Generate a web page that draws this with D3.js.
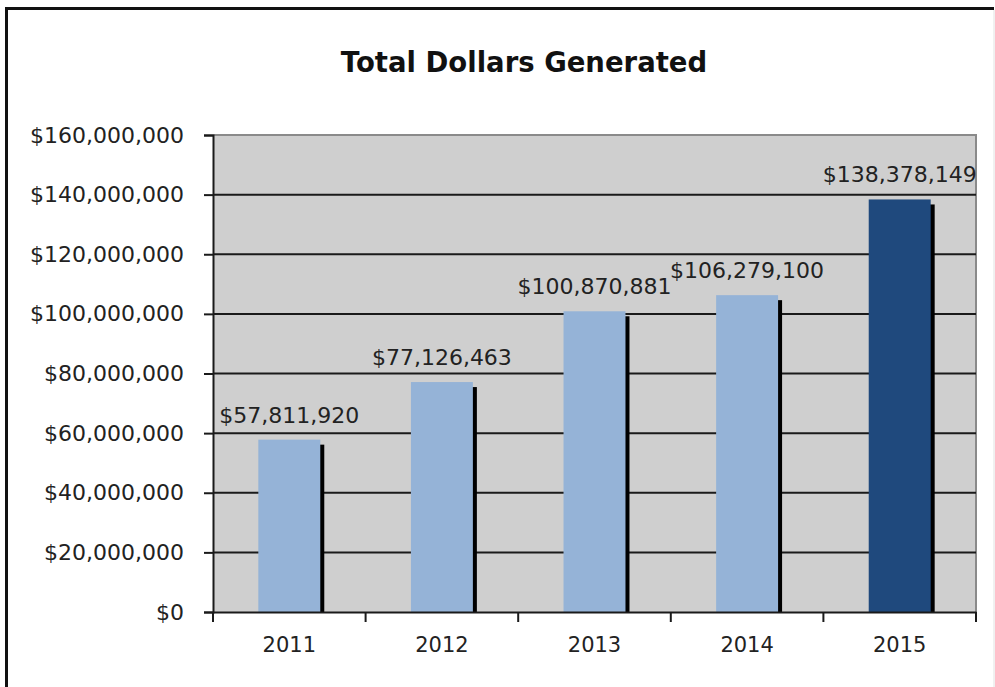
<!DOCTYPE html>
<html>
<head>
<meta charset="utf-8">
<script src="https://cdn.jsdelivr.net/npm/d3@7/dist/d3.min.js"></script>
<style>
  html, body { margin: 0; padding: 0; background: #fff; }
  svg { display: block; }
  text { font-family: "DejaVu Sans", Verdana, sans-serif; }
</style>
</head>
<body>
<svg id="chart" width="995" height="687"></svg>
<script>
// Chart data
const title = "Total Dollars Generated";
const years = ["2011", "2012", "2013", "2014", "2015"];
const totals = [57811920, 77126463, 100870881, 106279100, 138378149];
const barColors = ["#95b3d7", "#95b3d7", "#95b3d7", "#95b3d7", "#1f497d"];
const yTicks = [0, 20000000, 40000000, 60000000, 80000000, 100000000, 120000000, 140000000, 160000000];

const svg = d3.select("#chart");
const plot = { left: 213, right: 976, top: 135, bottom: 612 };

const x = d3.scaleBand()
  .domain(years)
  .range([plot.left, plot.right])
  .paddingInner(0.594)
  .paddingOuter(0.297);

const y = d3.scaleLinear()
  .domain([0, 160000000])
  .range([plot.bottom, plot.top]);

const money = v => "$" + d3.format(",")(v);

// Outer frame
svg.append("line").attr("x1", 5).attr("x2", 994).attr("y1", 8.5).attr("y2", 8.5)
  .attr("stroke", "#111").attr("stroke-width", 3);
svg.append("line").attr("x1", 6.5).attr("x2", 6.5).attr("y1", 7).attr("y2", 687)
  .attr("stroke", "#111").attr("stroke-width", 3);
svg.append("line").attr("x1", 994).attr("x2", 994).attr("y1", 10).attr("y2", 687)
  .attr("stroke", "#e2e2e2").attr("stroke-width", 1);

// Title
svg.append("text")
  .attr("x", 524).attr("y", 72)
  .attr("text-anchor", "middle")
  .attr("font-size", 27.5).attr("font-weight", "bold")
  .attr("fill", "#111")
  .text(title);

// Plot background
svg.append("rect")
  .attr("x", plot.left).attr("y", plot.top)
  .attr("width", plot.right - plot.left).attr("height", plot.bottom - plot.top)
  .attr("fill", "#cfcfcf");

// Plot border (top / right)
svg.append("path")
  .attr("d", `M${plot.left},${plot.top}H${plot.right}V${plot.bottom}`)
  .attr("fill", "none").attr("stroke", "#8a8a8a").attr("stroke-width", 2);

// Gridlines
svg.append("g").selectAll("line")
  .data(yTicks.filter(t => t > 0 && t < 160000000))
  .join("line")
  .attr("x1", plot.left).attr("x2", plot.right)
  .attr("y1", d => y(d)).attr("y2", d => y(d))
  .attr("stroke", "#1a1a1a").attr("stroke-width", 2);

// Bar shadows
const shadowDx = 4, shadowDy = 5;
svg.append("g").selectAll("rect")
  .data(totals)
  .join("rect")
  .attr("x", (d, i) => x(years[i]) + shadowDx)
  .attr("y", d => y(d) + shadowDy)
  .attr("width", x.bandwidth())
  .attr("height", d => plot.bottom - y(d) - shadowDy)
  .attr("fill", "#000");

// Bars
svg.append("g").selectAll("rect")
  .data(totals)
  .join("rect")
  .attr("x", (d, i) => x(years[i]))
  .attr("y", d => y(d))
  .attr("width", x.bandwidth())
  .attr("height", d => plot.bottom - y(d))
  .attr("fill", (d, i) => barColors[i]);

// Value labels
svg.append("g").selectAll("text")
  .data(totals)
  .join("text")
  .attr("x", (d, i) => x(years[i]) + x.bandwidth() / 2)
  .attr("y", d => y(d) - 17)
  .attr("text-anchor", "middle")
  .attr("font-size", 22)
  .attr("fill", "#222")
  .text(d => money(d));

// Y axis
const yAxis = svg.append("g")
  .attr("transform", `translate(${plot.left},0)`)
  .call(d3.axisLeft(y).tickValues(yTicks).tickSize(9).tickPadding(20).tickFormat(money));
yAxis.select(".domain").attr("stroke", "#1a1a1a").attr("stroke-width", 2);
yAxis.selectAll(".tick line").attr("stroke", "#1a1a1a").attr("stroke-width", 2);
yAxis.selectAll(".tick text")
  .attr("font-family", "DejaVu Sans, Verdana, sans-serif")
  .attr("font-size", 22).attr("fill", "#222");

// X axis with ticks on category boundaries
const xAxis = svg.append("g")
  .attr("transform", `translate(0,${plot.bottom})`)
  .call(d3.axisBottom(x).tickSize(0).tickPadding(25));
xAxis.select(".domain").attr("stroke", "#1a1a1a").attr("stroke-width", 2);
xAxis.selectAll(".tick text")
  .attr("font-family", "DejaVu Sans, Verdana, sans-serif")
  .attr("font-size", 21).attr("fill", "#222");
const boundaries = years.map(yr => x(yr) - x.step() * x.paddingInner() / 2).concat([plot.right]);
xAxis.append("g").selectAll("line")
  .data(boundaries)
  .join("line")
  .attr("x1", d => d).attr("x2", d => d)
  .attr("y1", 0).attr("y2", 10)
  .attr("stroke", "#1a1a1a").attr("stroke-width", 2);
</script>
</body>
</html>
